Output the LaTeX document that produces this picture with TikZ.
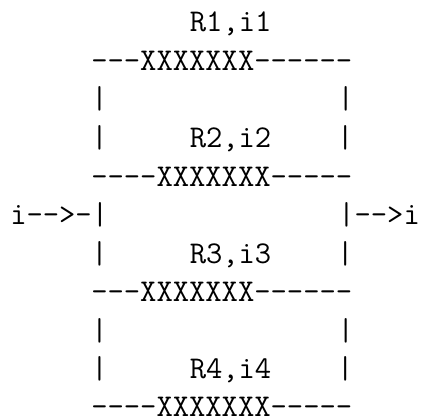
\documentclass[tikz,border=0pt]{standalone}
\newcommand\asciifont{\fontsize{23.75}{26}\selectfont\ttfamily\fontdimen2\font=12.33pt\relax}
\tikzset{
    asciiline/.style={inner sep=0pt, anchor=base west, font=\asciifont},
}
\begin{document}
\begin{tikzpicture}[x=1pt,y=-1pt,scale=.75]
    \useasboundingbox (0,0) rectangle (421,417);
    \node[asciiline] (r1) at (91,32) {~~~~~~R1,i1};
    \node[asciiline] (w1) at (91,70.5) {---XXXXXXX------};
    \node[asciiline] (g1) at (91,109) {|~~~~~~~~~~~~~~|};
    \node[asciiline] (r2) at (91,147.5) {|~~~~~R2,i2~~~~|};
    \node[asciiline] (w2) at (91,186) {----XXXXXXX-----};
    \node[asciiline] (io) at (10,224.5) {i-->-|~~~~~~~~~~~~~~|-->i};
    \node[asciiline] (r3) at (91,263) {|~~~~~R3,i3~~~~|};
    \node[asciiline] (w3) at (91,301.5) {---XXXXXXX------};
    \node[asciiline] (g3) at (91,340) {|~~~~~~~~~~~~~~|};
    \node[asciiline] (r4) at (91,378.5) {|~~~~~R4,i4~~~~|};
    \node[asciiline] (w4) at (91,416.5) {----XXXXXXX-----};
\end{tikzpicture}
\end{document}
